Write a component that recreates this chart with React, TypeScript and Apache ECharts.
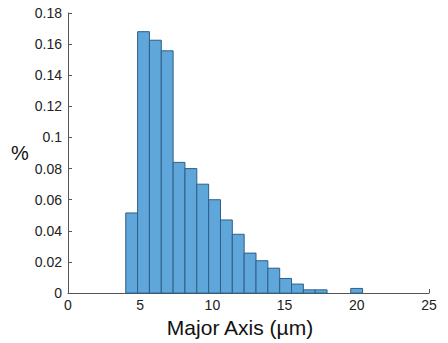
import React, { useEffect, useRef } from "react";
import * as echarts from "echarts";

const binStart = 4.0;
const binWidth = 0.82;
const binValues = [
  0.0515, 0.168, 0.1625, 0.1557, 0.084, 0.080, 0.070, 0.060, 0.047, 0.0378,
  0.0257, 0.0208, 0.016, 0.0094, 0.0058, 0.0021, 0.0021, 0, 0, 0.003,
];
const xTicks = [0, 5, 10, 15, 20, 25];
const yTicks = [0, 0.02, 0.04, 0.06, 0.08, 0.1, 0.12, 0.14, 0.16, 0.18];

export default function App() {
  const ref = useRef<HTMLDivElement>(null);
  useEffect(() => {
    if (!ref.current) return;
    const chart = echarts.init(ref.current, null, { renderer: "svg" });
    const data = binValues
      .map((v, i) => [binStart + i * binWidth, binStart + (i + 1) * binWidth, v])
      .filter((d) => d[2] > 0);
    const font = "'Liberation Sans', Arial, Helvetica, sans-serif";
    chart.setOption({
      animation: false,
      backgroundColor: "#ffffff",
      grid: { left: 68, right: 19, top: 13, bottom: 46, containLabel: false },
      xAxis: {
        type: "value",
        min: xTicks[0],
        max: xTicks[xTicks.length - 1],
        interval: 5,
        axisLine: { show: true, lineStyle: { color: "#555", width: 1 } },
        axisTick: { show: true, inside: true, length: 4, lineStyle: { color: "#555" } },
        axisLabel: { color: "#222", fontSize: 14, fontFamily: font, margin: 5 },
        splitLine: { show: false },
        name: "Major Axis (µm)",
        nameLocation: "middle",
        nameGap: 22,
        nameTextStyle: {
          color: "#111",
          fontSize: 21,
          fontFamily: font,
          padding: [0, 17, 0, 0],
        },
      },
      yAxis: {
        type: "value",
        min: yTicks[0],
        max: yTicks[yTicks.length - 1],
        interval: 0.02,
        axisLine: { show: true, lineStyle: { color: "#555", width: 1 } },
        axisTick: { show: true, inside: true, length: 4, lineStyle: { color: "#555" } },
        axisLabel: {
          color: "#222",
          fontSize: 14,
          fontFamily: font,
          margin: 6,
          formatter: (v: number) => String(Math.round(v * 100) / 100),
        },
        splitLine: { show: false },
        name: "%",
        nameLocation: "middle",
        nameGap: 35,
        nameRotate: 0,
        nameTextStyle: { color: "#111", fontSize: 20, fontFamily: font, padding: [0, 0, 24, 0] },
      },
      series: [
        {
          type: "custom",
          data,
          encode: { x: [0, 1], y: 2 },
          renderItem: (params: any, api: any) => {
            const p0 = api.coord([api.value(0), api.value(2)]);
            const p1 = api.coord([api.value(1), 0]);
            return {
              type: "rect",
              shape: { x: p0[0], y: p0[1], width: p1[0] - p0[0], height: p1[1] - p0[1] },
              style: { fill: "#5fa6da", stroke: "#2f5f86", lineWidth: 1 },
            };
          },
        },
      ],
    });
    return () => chart.dispose();
  }, []);
  return (
    <div
      ref={ref}
      style={{ position: "fixed", left: 0, top: 0, width: 448, height: 343 }}
    />
  );
}
